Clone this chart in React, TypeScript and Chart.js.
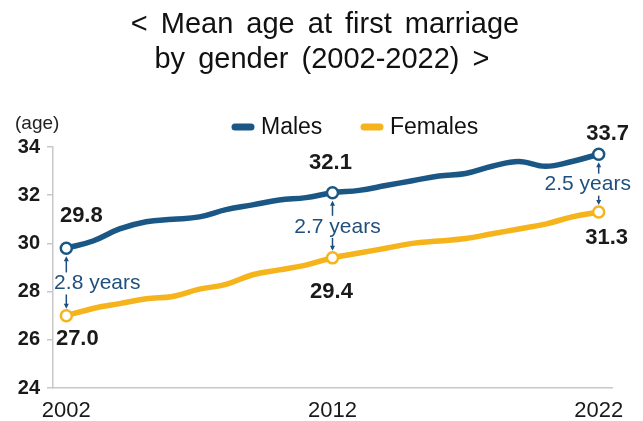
import React, { useEffect, useRef } from "react";
import { Chart, registerables } from "chart.js";

Chart.register(...registerables);

const years = ["2002","2003","2004","2005","2006","2007","2008","2009","2010","2011","2012","2013","2014","2015","2016","2017","2018","2019","2020","2021","2022"];
const males = [29.8, 30.1, 30.6, 30.9, 31.0, 31.1, 31.4, 31.6, 31.8, 31.9, 32.1, 32.2, 32.4, 32.6, 32.8, 32.9, 33.2, 33.4, 33.2, 33.4, 33.7];
const females = [27.0, 27.3, 27.5, 27.7, 27.8, 28.1, 28.3, 28.7, 28.9, 29.1, 29.4, 29.6, 29.8, 30.0, 30.1, 30.2, 30.4, 30.6, 30.8, 31.1, 31.3];
const tickYears = ["2002", "2012", "2022"];
const markedIndexes = [0, 10, 20];
const gapLabels = ["2.8 years", "2.7 years", "2.5 years"];
const yTicks = [24, 26, 28, 30, 32, 34];
const titleLines = ["< Mean age at first marriage", "by gender (2002-2022) >"];
const seriesNames = ["Males", "Females"];
const unitLabel = "(age)";

const MALE = "#1b5784";
const FEMALE = "#f5b41c";
const NOTE = "#1f4f7d";
const FONT = "'Liberation Sans', Arial, sans-serif";

const overlay = {
  id: "overlay",
  afterDatasetsDraw(chart: any) {
    const ctx = chart.ctx;
    const xs = chart.scales.x;
    const ys = chart.scales.y;
    ctx.save();

    // title
    ctx.fillStyle = "#111";
    ctx.font = `29px ${FONT}`;
    ctx.textAlign = "center";
    ctx.textBaseline = "alphabetic";
    try { (ctx as any).wordSpacing = "5px"; } catch (e) {}
    ctx.fillText(titleLines[0], 325, 33);
    ctx.fillText(titleLines[1], 322, 68);
    try { (ctx as any).wordSpacing = "0px"; } catch (e) {}

    // unit label
    ctx.font = `19px ${FONT}`;
    ctx.textAlign = "left";
    ctx.textBaseline = "middle";
    ctx.fillStyle = "#222";
    ctx.fillText(unitLabel, 15, 124);

    // legend
    const legendItems = [
      { x: 232, color: MALE, name: seriesNames[0] },
      { x: 361, color: FEMALE, name: seriesNames[1] },
    ];
    ctx.font = `23px ${FONT}`;
    legendItems.forEach((it) => {
      ctx.strokeStyle = it.color;
      ctx.lineWidth = 7;
      ctx.lineCap = "round";
      ctx.beginPath();
      ctx.moveTo(it.x + 3, 127);
      ctx.lineTo(it.x + 19, 127);
      ctx.stroke();
      ctx.fillStyle = "#111";
      ctx.fillText(it.name, it.x + 29, 128);
    });

    // data labels
    const mOff = [[15, -32], [-2, -30], [9, -20]];
    const fOff = [[11, 23], [-1, 34], [8, 26]];
    const gapDx = [31, 5, -11];
    ctx.textAlign = "center";
    ctx.textBaseline = "middle";
    markedIndexes.forEach((idx, k) => {
      const px = xs.getPixelForValue(idx);
      const pm = ys.getPixelForValue(males[idx]);
      const pf = ys.getPixelForValue(females[idx]);
      ctx.font = `bold 22px ${FONT}`;
      ctx.fillStyle = "#1a1a1a";
      ctx.fillText(males[idx].toFixed(1), px + mOff[k][0], pm + mOff[k][1]);
      ctx.fillText(females[idx].toFixed(1), px + fOff[k][0], pf + fOff[k][1]);

      // gap annotation
      const midY = (pm + pf) / 2 + 1.5;
      ctx.font = `21px ${FONT}`;
      ctx.fillStyle = NOTE;
      ctx.fillText(gapLabels[k], px + gapDx[k], midY);
      const tTop = midY - 10;
      const tBot = midY + 10;
      ctx.strokeStyle = NOTE;
      ctx.lineWidth = 1.5;
      ctx.lineCap = "butt";
      // up arrow
      ctx.beginPath();
      ctx.moveTo(px, tTop - 1);
      ctx.lineTo(px, pm + 10);
      ctx.stroke();
      ctx.beginPath();
      ctx.moveTo(px, pm + 8);
      ctx.lineTo(px - 2.5, pm + 13);
      ctx.lineTo(px + 2.5, pm + 13);
      ctx.closePath();
      ctx.fillStyle = NOTE;
      ctx.fill();
      // down arrow
      ctx.beginPath();
      ctx.moveTo(px, tBot + 1);
      ctx.lineTo(px, pf - 9);
      ctx.stroke();
      ctx.beginPath();
      ctx.moveTo(px, pf - 7);
      ctx.lineTo(px - 2.5, pf - 12);
      ctx.lineTo(px + 2.5, pf - 12);
      ctx.closePath();
      ctx.fill();
    });
    ctx.restore();
  },
};

export default function App() {
  const ref = useRef<HTMLCanvasElement | null>(null);
  useEffect(() => {
    if (!ref.current) return;
    const pointR = (c: any) => (markedIndexes.includes(c.dataIndex) ? 5.5 : 0);
    const chart = new Chart(ref.current, {
      type: "line",
      data: {
        labels: years,
        datasets: [
          {
            label: seriesNames[0],
            data: males,
            borderColor: MALE,
            borderWidth: 5.5,
            tension: 0.4,
            pointRadius: pointR,
            pointHoverRadius: pointR,
            pointBackgroundColor: "#fff",
            pointBorderColor: MALE,
            pointBorderWidth: 2.5,
          },
          {
            label: seriesNames[1],
            data: females,
            borderColor: FEMALE,
            borderWidth: 5.5,
            tension: 0.4,
            pointRadius: pointR,
            pointHoverRadius: pointR,
            pointBackgroundColor: "#fff",
            pointBorderColor: FEMALE,
            pointBorderWidth: 2.5,
          },
        ],
      },
      options: {
        animation: false,
        responsive: false,
        devicePixelRatio: 1,
        layout: { padding: { top: 147, right: 31, left: 0, bottom: 0 } },
        plugins: {
          legend: { display: false },
          title: { display: false },
          tooltip: { enabled: false },
        },
        scales: {
          x: {
            offset: true,
            grid: { display: false },
            border: { display: true, color: "#c8c8c8", width: 1.5 },
            ticks: {
              autoSkip: false,
              maxRotation: 0,
              padding: 2,
              color: "#1a1a1a",
              font: { family: FONT, size: 22 },
              callback: (_v: any, i: number) => (tickYears.includes(years[i]) ? years[i] : ""),
            },
            afterFit: (s: any) => { s.height = 33; },
          },
          y: {
            min: 24,
            max: 34,
            afterBuildTicks: (s: any) => { s.ticks = yTicks.map((v) => ({ value: v })); },
            grid: { drawOnChartArea: false, drawTicks: true, tickLength: 6, color: "#c8c8c8", lineWidth: 1.5 },
            border: { display: true, color: "#c8c8c8", width: 1.5 },
            ticks: {
              padding: 7,
              color: "#1a1a1a",
              font: { family: FONT, size: 20, weight: "bold" },
            },
            afterFit: (s: any) => { s.width = 53; },
          },
        },
      },
      plugins: [overlay],
    });
    return () => chart.destroy();
  }, []);
  return (
    <div style={{ position: "absolute", left: 0, top: 0, width: 643, height: 421, background: "#fff" }}>
      <canvas ref={ref} width={643} height={421} />
    </div>
  );
}
